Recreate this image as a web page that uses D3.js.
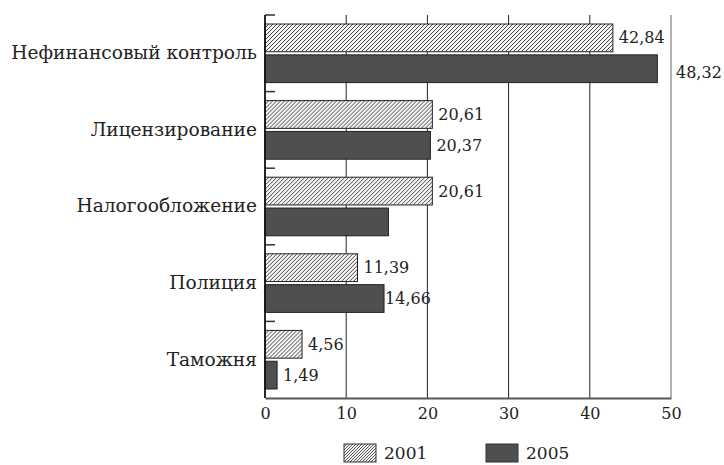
<!DOCTYPE html>
<html>
<head>
<meta charset="utf-8">
<script src="https://cdn.jsdelivr.net/npm/d3@7"></script>
<style>
  body { margin: 0; background: #fff; }
  text { font-family: "DejaVu Serif", serif; fill: #222; }
</style>
</head>
<body>
<script>
// Chart data
const categories = ["Нефинансовый контроль", "Лицензирование", "Налогообложение", "Полиция", "Таможня"];
const series = ["2001", "2005"];
const values2001 = [42.84, 20.61, 20.61, 11.39, 4.56];
const values2005 = [48.32, 20.37, 15.2, 14.66, 1.49];
const labels2001 = ["42,84", "20,61", "20,61", "11,39", "4,56"];
const labels2005 = ["48,32", "20,37", null, "14,66", "1,49"];
const xTicks = [0, 10, 20, 30, 40, 50];

const width = 724, height = 465;
const margin = { top: 15, right: 53, bottom: 67, left: 265 };
const plotW = width - margin.left - margin.right;
const plotH = height - margin.top - margin.bottom;
const serif = "'DejaVu Serif', serif";

const svg = d3.select("body").append("svg")
    .attr("width", width)
    .attr("height", height);

// hatch patterns
const defs = svg.append("defs");
function hatch(id, size, sw) {
    const p = defs.append("pattern")
        .attr("id", id)
        .attr("patternUnits", "userSpaceOnUse")
        .attr("width", size).attr("height", size);
    p.append("rect").attr("width", size).attr("height", size).attr("fill", "#f6f6f6");
    p.append("path")
        .attr("d", `M${-size},${size * 2} L${size * 2},${-size} M0,${size} L${size},0`)
        .attr("stroke", "#3a3a3a").attr("stroke-width", sw);
}
hatch("hatch", 4, 0.75);
hatch("hatchSmall", 3, 0.65);

const g = svg.append("g")
    .attr("transform", "translate(" + margin.left + "," + margin.top + ")");

const x = d3.scaleLinear().domain([0, 50]).range([0, plotW]);

const y0 = d3.scaleBand()
    .domain(categories)
    .range([0, plotH])
    .paddingInner(0.235)
    .paddingOuter(0.1175);

const y1 = d3.scaleBand()
    .domain(series)
    .range([0, y0.bandwidth()])
    .paddingInner(0.1);

// gridlines
g.selectAll(".grid")
    .data(xTicks.slice(1))
    .enter().append("line")
    .attr("x1", d => x(d)).attr("x2", d => x(d))
    .attr("y1", 0).attr("y2", plotH)
    .attr("stroke", d => d === 50 ? "#888" : "#222")
    .attr("stroke-width", d => d === 50 ? 1.3 : 1);

// bars
const rows = categories.map((c, i) => ({
    cat: c,
    bars: [
        { s: "2001", v: values2001[i], label: labels2001[i] },
        { s: "2005", v: values2005[i], label: labels2005[i] }
    ]
}));

const group = g.selectAll(".cat")
    .data(rows)
    .enter().append("g")
    .attr("transform", d => "translate(0," + y0(d.cat) + ")");

group.selectAll("rect")
    .data(d => d.bars)
    .enter().append("rect")
    .attr("x", 0)
    .attr("y", d => y1(d.s))
    .attr("width", d => x(d.v))
    .attr("height", y1.bandwidth())
    .attr("fill", d => d.s === "2001" ? "url(#hatch)" : "#4e4f51")
    .attr("stroke", "#222")
    .attr("stroke-width", 1);

// value labels
group.selectAll(".val")
    .data(d => d.bars.filter(b => b.label))
    .enter().append("text")
    .attr("class", "val")
    .attr("x", d => d.v > 45 ? plotW + 5 : x(d.v) + (d.v === 14.66 ? 1 : 6))
    .attr("y", d => y1(d.s) + y1.bandwidth() / 2 + (d.v > 45 ? 4 : 0))
    .attr("dy", "0.35em")
    .attr("font-size", 16)
    .text(d => d.label);

// y axis with category labels
const yAxis = d3.axisLeft(y0).tickSize(0).tickPadding(8);
const yg = g.append("g").call(yAxis);
yg.select(".domain").remove();
yg.selectAll("text")
    .attr("font-size", 18.6)
    .attr("fill", "#222")
    .style("font-family", serif);

// small ticks at category boundaries
const bounds = categories.map(c => y0(c) - y0.step() * y0.paddingInner() / 2);
bounds[0] = 0;
g.selectAll(".btick")
    .data(bounds)
    .enter().append("line")
    .attr("x1", 0).attr("x2", 10)
    .attr("y1", d => d).attr("y2", d => d)
    .attr("stroke", "#333").attr("stroke-width", 1.5);

g.append("line")
    .attr("x1", 0).attr("x2", 0)
    .attr("y1", 0).attr("y2", plotH)
    .attr("stroke", "#111").attr("stroke-width", 1.8);

// x axis
const xAxis = d3.axisBottom(x).tickValues(xTicks).tickSize(0).tickPadding(10);
const xg = g.append("g")
    .attr("transform", "translate(0," + plotH + ")")
    .call(xAxis);
xg.select(".domain").attr("stroke", "#555").attr("stroke-width", 1.8);
xg.selectAll("text")
    .attr("font-size", 16)
    .attr("fill", "#222")
    .style("font-family", serif);

// legend
const legend = svg.append("g").attr("transform", "translate(344,444)");
const legendItems = legend.selectAll("g")
    .data(series)
    .enter().append("g")
    .attr("transform", (d, i) => "translate(" + (i * 142) + ",0)");
legendItems.append("rect")
    .attr("width", 32).attr("height", 18)
    .attr("fill", d => d === "2001" ? "url(#hatchSmall)" : "#4e4f51")
    .attr("stroke", "#333").attr("stroke-width", 1);
legendItems.append("text")
    .attr("x", 40).attr("y", 9)
    .attr("dy", "0.35em")
    .attr("font-size", 17)
    .text(d => d);
</script>
</body>
</html>
